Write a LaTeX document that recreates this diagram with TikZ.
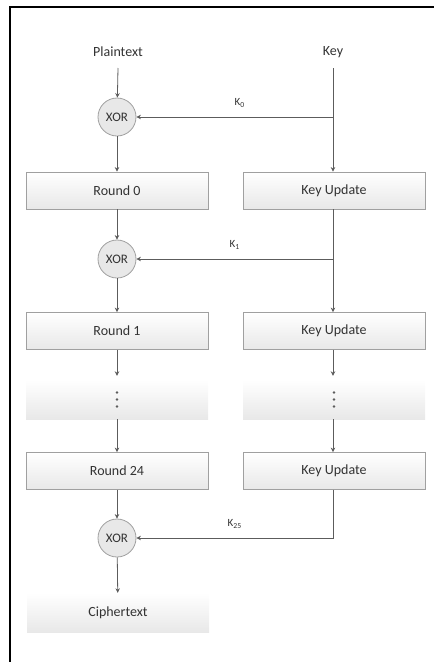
\documentclass[tikz,border=0pt]{standalone}
\usepackage{fontspec}
\setmainfont{Carlito}
\usetikzlibrary{arrows.meta}
\definecolor{txtgray}{HTML}{333333}
\definecolor{linegray}{HTML}{5C5C5C}
\definecolor{boxedge}{HTML}{A0A0A0}
\begin{document}
\begin{tikzpicture}[
    x=1pt, y=-1pt,
    every node/.style={text=txtgray, font=\fontsize{14}{16}\selectfont},
    box/.style={rectangle, draw=boxedge, line width=0.8pt, top color=white, bottom color=black!9, minimum width=182pt, minimum height=37pt, inner sep=0pt},
    plainbox/.style={rectangle, top color=white, bottom color=black!9, minimum width=182pt, minimum height=39pt, inner sep=0pt},
    xor/.style={circle, draw=boxedge, line width=0.8pt, fill=black!9, minimum size=38pt, inner sep=0pt, font=\fontsize{13}{15}\selectfont},
    klabel/.style={font=\fontsize{11}{13}\selectfont},
    arrow/.style={draw=linegray, line width=0.8pt, -{Stealth[length=4.5pt, width=4.5pt]}}
]
    \useasboundingbox (0,0) rectangle (434,662);
    \draw[line width=2pt] (9.5,662) -- (9.5,6.5) -- (434,6.5);

    % inputs
    \node (plain) at (118,52) {Plaintext};
    \node (key) at (333,52) {Key};

    % left column
    \node[xor] (xorA) at (117,117) {XOR};
    \node[box] (roundA) at (117,190.5) {Round 0};
    \node[xor] (xorB) at (117,259) {XOR};
    \node[box] (roundB) at (117,331) {Round 1};
    \node[plainbox] (dotsL) at (117,399.5) {};
    \node[box] (roundC) at (117,471) {Round 24};
    \node[xor] (xorC) at (117,538) {XOR};
    \node[plainbox] (cipher) at (118,612.5) {Ciphertext};

    % right column
    \node[box] (updA) at (334,190.5) {Key Update};
    \node[box] (updB) at (334,331) {Key Update};
    \node[plainbox] (dotsR) at (334,399.5) {};
    \node[box] (updC) at (334,471) {Key Update};

    \foreach \n in {dotsL,dotsR}
        \foreach \dy in {-7,0,7}
            \fill[linegray] ([yshift=-\dy pt]\n.center) circle (1.3pt);

    % data path
    \draw[arrow] (plain) ++(0,-16pt) -- (xorA);
    \draw[arrow] (xorA) -- (roundA);
    \draw[arrow] (roundA) -- (xorB);
    \draw[arrow] (xorB) -- (roundB);
    \draw[arrow] (roundB) -- ([yshift=4pt]dotsL.north);
    \draw[arrow] (dotsL) -- (roundC);
    \draw[arrow] (roundC) -- (xorC);
    \draw[arrow] (xorC) -- (cipher);

    % key path
    \draw[arrow] (key) ++(0,-16pt) -- (updA.north -| key);
    \draw[arrow] (key |- xorA) -- node[klabel, above=6pt, xshift=5pt]{K\textsubscript{0}} (xorA);
    \draw[arrow] (updA.south -| key) -- (updB.north -| key);
    \draw[arrow] (key |- xorB) -- node[klabel, above=6pt]{K\textsubscript{1}} (xorB);
    \draw[arrow] (updB.south -| key) -- ([yshift=4pt]dotsR.north -| key);
    \draw[arrow] (dotsR.south -| key) -- (updC.north -| key);
    \draw[arrow] (updC.south -| key) |- node[klabel, above=6pt, pos=0.75]{K\textsubscript{25}} (xorC);
\end{tikzpicture}
\end{document}
